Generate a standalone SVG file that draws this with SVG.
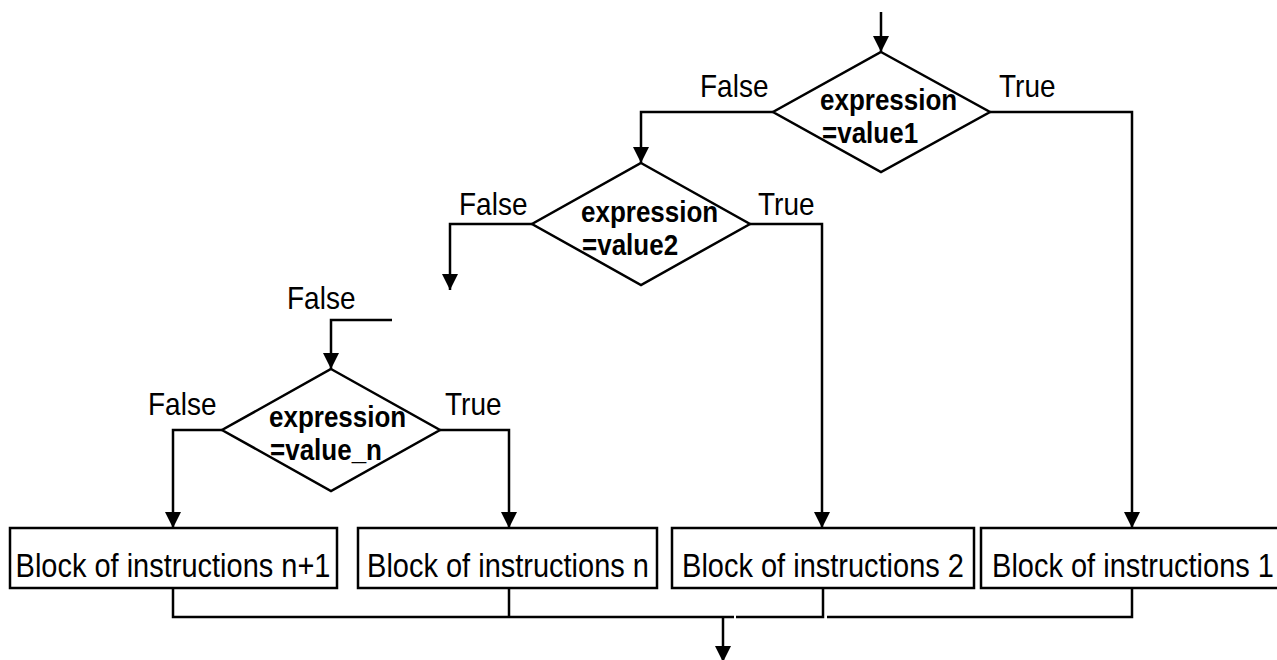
<svg xmlns="http://www.w3.org/2000/svg" width="1277" height="660" viewBox="0 0 1277 660">
  <defs>
    <marker id="arrow" markerUnits="userSpaceOnUse" markerWidth="17" markerHeight="17" viewBox="0 0 17 17" refX="16" refY="8" orient="auto">
      <path d="M0,0 L16,8 L0,16 z" fill="#000"/>
    </marker>
    <style>
      .shape { fill: #fff; stroke: #000; stroke-width: 2.5; }
      .wire { fill: none; stroke: #000; stroke-width: 2.5; }
      .lbl { font-family: "Liberation Sans", Arial, sans-serif; font-size: 28px; fill: #000; }
      .cond { font-family: "Liberation Sans", Arial, sans-serif; font-size: 26px; font-weight: bold; fill: #000; }
      .blk { font-family: "Liberation Sans", Arial, sans-serif; font-size: 29px; fill: #000; text-anchor: middle; }
    </style>
  </defs>
  <rect width="1277" height="660" fill="#fff"/>

  <!-- connectors -->
  <g id="connectors">
    <path class="wire" d="M881,12 V52" marker-end="url(#arrow)"/>
    <path class="wire" d="M773,112 H641 V163" marker-end="url(#arrow)"/>
    <path class="wire" d="M990,112 H1132 V528" marker-end="url(#arrow)"/>
    <path class="wire" d="M532,224 H450 V290" marker-end="url(#arrow)"/>
    <path class="wire" d="M750,224 H822 V528" marker-end="url(#arrow)"/>
    <path class="wire" d="M392,320 H331 V369" marker-end="url(#arrow)"/>
    <path class="wire" d="M222,430 H173 V528" marker-end="url(#arrow)"/>
    <path class="wire" d="M440,430 H509 V528" marker-end="url(#arrow)"/>
    <!-- merge bus under the blocks -->
    <path class="wire" d="M173,588 V617 H734"/>
    <path class="wire" d="M509,588 V617"/>
    <path class="wire" d="M736,617 H823 V588"/>
    <path class="wire" d="M827,617 H1132 V588"/>
    <path class="wire" d="M723,617 V662" marker-end="url(#arrow)"/>
  </g>

  <!-- decision 1 -->
  <g id="decision1">
    <polygon class="shape" points="881,52 990,112 881,172 773,112"/>
    <text class="cond" transform="translate(820,110) scale(1,1.12)">expression</text>
    <text class="cond" transform="translate(822,143) scale(1,1.12)">=value1</text>
    <text class="lbl" transform="translate(700,97) scale(1,1.12)">False</text>
    <text class="lbl" transform="translate(999,97) scale(1,1.12)">True</text>
  </g>

  <!-- decision 2 -->
  <g id="decision2">
    <polygon class="shape" points="641,163 750,224 641,285 532,224"/>
    <text class="cond" transform="translate(581,222) scale(1,1.12)">expression</text>
    <text class="cond" transform="translate(582,255) scale(1,1.12)">=value2</text>
    <text class="lbl" transform="translate(459,215) scale(1,1.12)">False</text>
    <text class="lbl" transform="translate(758,215) scale(1,1.12)">True</text>
  </g>

  <!-- decision n -->
  <g id="decisionN">
    <text class="lbl" transform="translate(287,309) scale(1,1.12)">False</text>
    <polygon class="shape" points="331,369 440,430 331,491 222,430"/>
    <text class="cond" transform="translate(269,427) scale(1,1.12)">expression</text>
    <text class="cond" transform="translate(270,460) scale(1,1.12)">=value_n</text>
    <text class="lbl" transform="translate(148,415) scale(1,1.12)">False</text>
    <text class="lbl" transform="translate(445,415) scale(1,1.12)">True</text>
  </g>

  <!-- instruction blocks -->
  <g id="blockN1">
    <rect class="shape" x="10" y="528" width="327" height="60"/>
    <text class="blk" transform="translate(173,577) scale(1,1.12)">Block of instructions n+1</text>
  </g>
  <g id="blockN">
    <rect class="shape" x="358" y="528" width="299" height="60"/>
    <text class="blk" transform="translate(508,577) scale(1,1.12)">Block of instructions n</text>
  </g>
  <g id="block2">
    <rect class="shape" x="672" y="528" width="302" height="60"/>
    <text class="blk" transform="translate(823,577) scale(1,1.12)">Block of instructions 2</text>
  </g>
  <g id="block1">
    <rect class="shape" x="981" y="528" width="310" height="60"/>
    <text class="blk" transform="translate(1133,577) scale(1,1.12)">Block of instructions 1</text>
  </g>
</svg>
